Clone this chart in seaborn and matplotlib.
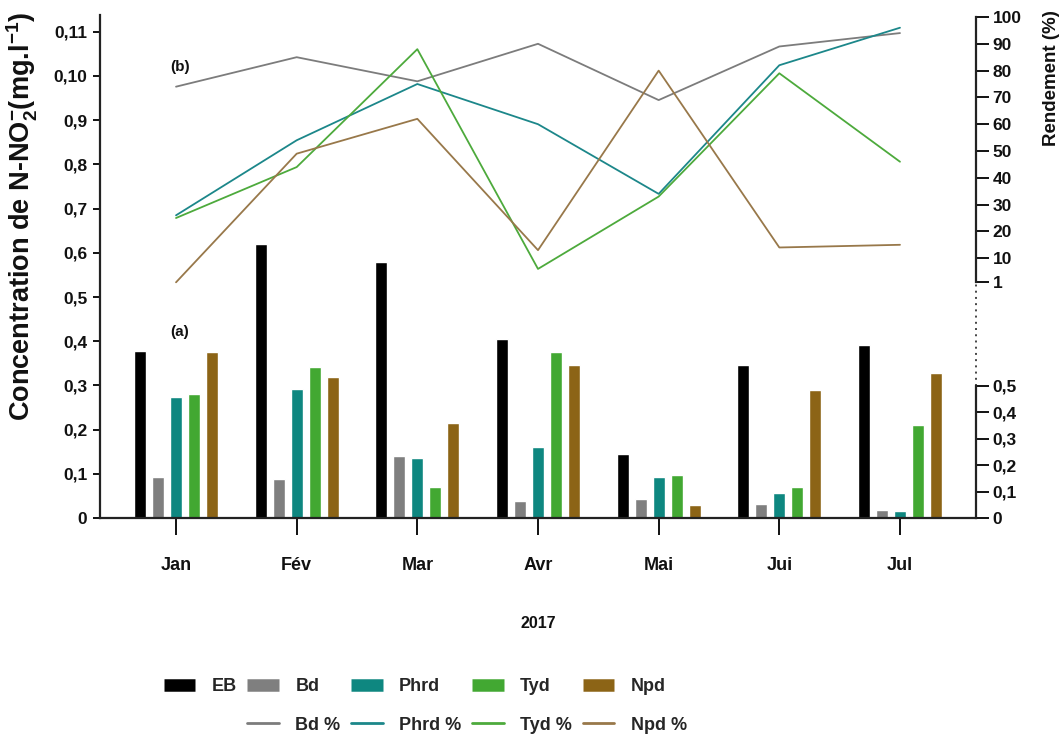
import numpy as np
import pandas as pd
import matplotlib
matplotlib.use("Agg")
import matplotlib.pyplot as plt
import matplotlib.transforms as mtransforms
from matplotlib.lines import Line2D
import seaborn as sns

# --- data -------------------------------------------------------------
mois = ["Jan", "Fév", "Mar", "Avr", "Mai", "Jui", "Jul"]

# N-NO2- concentrations (mg/l)
eb   = [0.378, 0.620, 0.580, 0.405, 0.145, 0.346, 0.392]
bd   = [0.093, 0.088, 0.140, 0.039, 0.043, 0.032, 0.018]
phrd = [0.274, 0.292, 0.136, 0.161, 0.093, 0.057, 0.016]
tyd  = [0.281, 0.342, 0.070, 0.375, 0.097, 0.070, 0.210]
npd  = [0.376, 0.319, 0.215, 0.346, 0.029, 0.290, 0.328]

# removal yield (%)
bd_pct   = [74, 85, 76, 90, 69, 89, 94]
phrd_pct = [26, 54, 75, 60, 34, 82, 96]
tyd_pct  = [25, 44, 88, 6, 33, 79, 46]
npd_pct  = [1, 49, 62, 13, 80, 14, 15]

series_bars = ["EB", "Bd", "Phrd", "Tyd", "Npd"]
series_lines = ["Bd %", "Phrd %", "Tyd %", "Npd %"]

conc_ticks = [0, 0.1, 0.2, 0.3, 0.4, 0.5, 0.6, 0.7, 0.8, 0.9, 1.0, 1.1]
conc_ticklabels = ["0", "0,1", "0,2", "0,3", "0,4", "0,5", "0,6", "0,7",
                   "0,8", "0,9", "0,10", "0,11"]
pct_ticks = [1, 10, 20, 30, 40, 50, 60, 70, 80, 90, 100]
low_ticks = [0, 0.1, 0.2, 0.3, 0.4, 0.5]
low_ticklabels = ["0", "0,1", "0,2", "0,3", "0,4", "0,5"]

bar_colors = ["#000000", "#7f7f7f", "#0e8780", "#42a832", "#8c6416"]
line_colors = ["#7c7c7c", "#1c878a", "#4daa3c", "#98784a"]

# --- styling ----------------------------------------------------------
sns.set_theme(style="white")
plt.rcParams["font.family"] = ["Liberation Sans", "DejaVu Sans"]
plt.rcParams["font.weight"] = "bold"
plt.rcParams["mathtext.fontset"] = "custom"
plt.rcParams["mathtext.rm"] = "Liberation Sans:bold"
plt.rcParams["mathtext.bf"] = "Liberation Sans:bold"
plt.rcParams["mathtext.default"] = "rm"

W, H = 1063, 746
fig = plt.figure(figsize=(W / 100, H / 100), dpi=100)

# axes box in pixels: left spine x=100, right spine x=976, base y=518, top y=15
x0, x1, yb, yt = 100, 976, 518, 15
ax = fig.add_axes([x0 / W, (H - yb) / H, (x1 - x0) / W, (yb - yt) / H])

# --- bars -------------------------------------------------------------
bars_df = pd.DataFrame({
    "mois": np.repeat(mois, len(series_bars)),
    "serie": series_bars * len(mois),
    "valeur": np.array([eb, bd, phrd, tyd, npd]).T.ravel(),
})
sns.barplot(data=bars_df, x="mois", y="valeur", hue="serie",
            hue_order=series_bars, order=mois, palette=bar_colors,
            width=0.745, gap=0.33, saturation=1, ax=ax, legend=False)

ax.set_xlim(-0.63, 6.63)
ax.set_ylim(0, (yb - yt) / 442)
ax.set_yticks(conc_ticks)
ax.set_yticklabels(conc_ticklabels)
ax.set_xticks(range(len(mois)))
ax.set_xticklabels(mois)
for s in ["top", "right"]:
    ax.spines[s].set_visible(False)
for s in ["left", "bottom"]:
    ax.spines[s].set_color("#222222")
    ax.spines[s].set_linewidth(1.6)
ax.tick_params(axis="y", direction="out", length=5, width=1.4, pad=4,
               labelsize=12.5, colors="#111111", left=True)
ax.tick_params(axis="x", direction="out", length=12, width=1.4, pad=16,
               labelsize=13, colors="#111111", bottom=True)
ax.set_xlabel("2017", fontsize=11.5, fontweight="bold", labelpad=30,
              color="#111111")
ax.set_ylabel("Concentration de N-NO$_2^{-}$(mg.l$^{-1}$)", fontsize=19.5,
              fontweight="bold", color="#111111")
ax.yaxis.set_label_coords(-0.068, 0.60)

ax.text(0.03, 0.42, "(a)", fontsize=11, fontweight="bold", ha="center",
        va="center", color="#111111")
ax.text(0.03, 1.02, "(b)", fontsize=11, fontweight="bold", ha="center",
        va="center", color="#111111")

# --- yield lines (upper right scale) ----------------------------------
axp = ax.twinx()
pos = np.arange(len(mois))
lines_df = pd.DataFrame({
    "pos": np.tile(pos, len(series_lines)),
    "serie": np.repeat(series_lines, len(mois)),
    "pct": np.concatenate([bd_pct, phrd_pct, tyd_pct, npd_pct]),
})
sns.lineplot(data=lines_df, x="pos", y="pct", hue="serie",
             hue_order=series_lines, palette=line_colors, linewidth=1.3,
             ax=axp, legend=False)
p_per_px = 2.68
axp.set_ylim((285 - yb) / p_per_px, (285 - yt) / p_per_px)
axp.set_xlim(-0.63, 6.63)
axp.set_yticks(pct_ticks)
axp.set_yticklabels([str(t) for t in pct_ticks])
axp.set_xlabel("")
axp.set_ylabel("Rendement (%)", fontsize=13.5, fontweight="bold",
               color="#111111")
axp.yaxis.set_label_coords(1.076, 0.875)
for s in ["top", "left", "bottom"]:
    axp.spines[s].set_visible(False)
axp.spines["right"].set_bounds(1, 100)
axp.spines["right"].set_color("#222222")
axp.spines["right"].set_linewidth(1.6)
axp.tick_params(axis="y", direction="out", length=9, width=1.4, pad=3,
                labelsize=12.5, colors="#111111", right=True)

# --- lower right concentration scale ----------------------------------
axl = ax.twinx()
axl.set_ylim(0, (yb - yt) / 264)
axl.set_yticks(low_ticks)
axl.set_yticklabels(low_ticklabels)
for s in ["top", "left", "bottom"]:
    axl.spines[s].set_visible(False)
axl.spines["right"].set_bounds(0, 0.5)
axl.spines["right"].set_color("#222222")
axl.spines["right"].set_linewidth(1.6)
axl.tick_params(axis="y", direction="out", length=9, width=1.4, pad=3,
                labelsize=12.5, colors="#111111", right=True)
axl.grid(False)
axp.grid(False)
ax.grid(False)

# dotted break between the two right scales
fig.canvas.draw()
y_top_disp = axp.transData.transform((0, 1))[1]
y_top = axl.transData.inverted().transform((0, y_top_disp))[1]
trans = mtransforms.blended_transform_factory(axl.transAxes, axl.transData)
axl.plot([1, 1], [0.5, y_top], transform=trans, ls=(0, (1, 2.2)),
         color="#444444", lw=1.4, clip_on=False)

# --- legend -----------------------------------------------------------
handles, labels = [], []
blank = Line2D([], [], color="none")
handles.append(Line2D([], [], color=bar_colors[0], lw=9, solid_capstyle="butt"))
labels.append("EB")
handles.append(blank)
labels.append("")
for name, bc, lc in zip(series_lines, bar_colors[1:], line_colors):
    handles.append(Line2D([], [], color=bc, lw=9, solid_capstyle="butt"))
    labels.append(name.replace(" %", ""))
    handles.append(Line2D([], [], color=lc, lw=2))
    labels.append(name)
fig.legend(handles, labels, ncol=5, loc="center",
           bbox_to_anchor=(0.40, 0.054), frameon=False,
           prop={"size": 13, "weight": "bold"}, handlelength=1.75,
           handletextpad=0.9, columnspacing=0.6, labelspacing=1.2)

fig.savefig("out.png", dpi=100)
